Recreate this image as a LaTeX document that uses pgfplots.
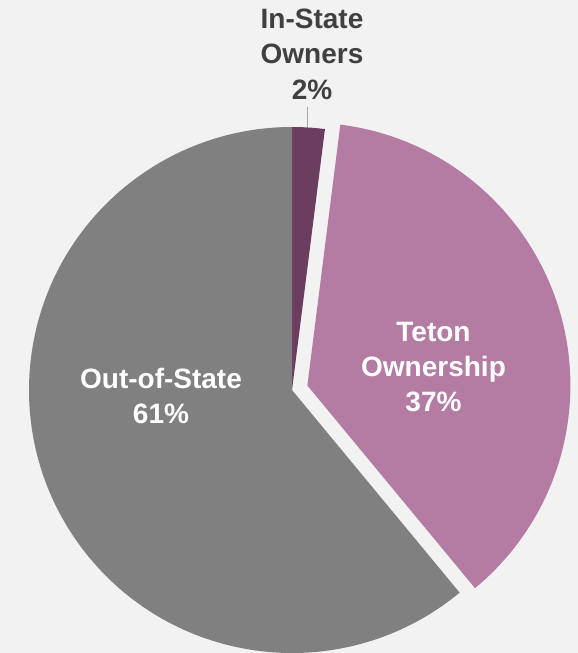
\documentclass[border=0pt]{standalone}
\usepackage{fontspec}
\setmainfont{Liberation Sans}
\usepackage{pgfplots}
\usepackage{pgfplotstable}
\pgfplotsset{compat=1.18}

\definecolor{bg}{RGB}{242,242,242}
\definecolor{instate}{RGB}{107,62,96}
\definecolor{teton}{RGB}{180,124,163}
\definecolor{outstate}{RGB}{128,128,128}
\definecolor{lbldark}{RGB}{64,64,64}
\definecolor{leader}{RGB}{166,166,166}

% shares in percent, clockwise from 12 o'clock
\pgfplotstableread{
label value
In-State 2
Teton 37
Out-of-State 61
}\piedata

\begin{document}
\begin{tikzpicture}
    \pgfplotstablegetelem{0}{value}\of\piedata \let\vA\pgfplotsretval
    \pgfplotstablegetelem{1}{value}\of\piedata \let\vB\pgfplotsretval
    \pgfplotstablegetelem{2}{value}\of\piedata \let\vC\pgfplotsretval
    \pgfmathsetmacro\aA{90}
    \pgfmathsetmacro\aB{\aA-3.6*\vA}
    \pgfmathsetmacro\aC{\aB-3.6*\vB}
    \pgfmathsetmacro\aD{\aC-3.6*\vC}
    \pgfmathsetmacro\aM{(\aB+\aC)/2}
    \def\R{263pt}
    \tikzset{lbl/.style={font=\fontsize{28}{34}\selectfont\bfseries, inner sep=0pt, anchor=base}}
    \begin{axis}[
        x=1pt, y=1pt,
        xmin=-292, xmax=286,
        ymin=-263, ymax=390,
        hide axis,
        clip=false,
    ]
        \fill[bg] (rel axis cs:0,0) rectangle (rel axis cs:1,1);

        % In-State owners
        \fill[instate] (axis cs:0,0) -- ++(\aA:\R)
            arc[start angle=\aA, end angle=\aB, radius=\R] -- cycle;
        % Teton ownership, pulled out
        \fill[teton] ([shift={(\aM:16pt)}]axis cs:0,0) -- ++(\aB:\R)
            arc[start angle=\aB, end angle=\aC, radius=\R] -- cycle;
        % Out-of-State
        \fill[outstate] (axis cs:0,0) -- ++(\aC:\R)
            arc[start angle=\aC, end angle=\aD, radius=\R] -- cycle;

        \draw[leader, line width=1pt] (axis cs:15,263) -- (axis cs:15,283);

        \node[lbl, text=lbldark] at (axis cs:20,361) {In-State};
        \node[lbl, text=lbldark] at (axis cs:20,326) {Owners};
        \node[lbl, text=lbldark] at (axis cs:20,290) {2\%};

        \node[lbl, text=white] at (axis cs:141.5,48) {Teton};
        \node[lbl, text=white] at (axis cs:141.5,13) {Ownership};
        \node[lbl, text=white] at (axis cs:141.5,-22) {37\%};

        \node[lbl, text=white] at (axis cs:-131,1) {Out-of-State};
        \node[lbl, text=white] at (axis cs:-131,-34) {61\%};
    \end{axis}
    \pgfresetboundingbox
    \useasboundingbox (current axis.south west) rectangle (current axis.north east);
\end{tikzpicture}
\end{document}
